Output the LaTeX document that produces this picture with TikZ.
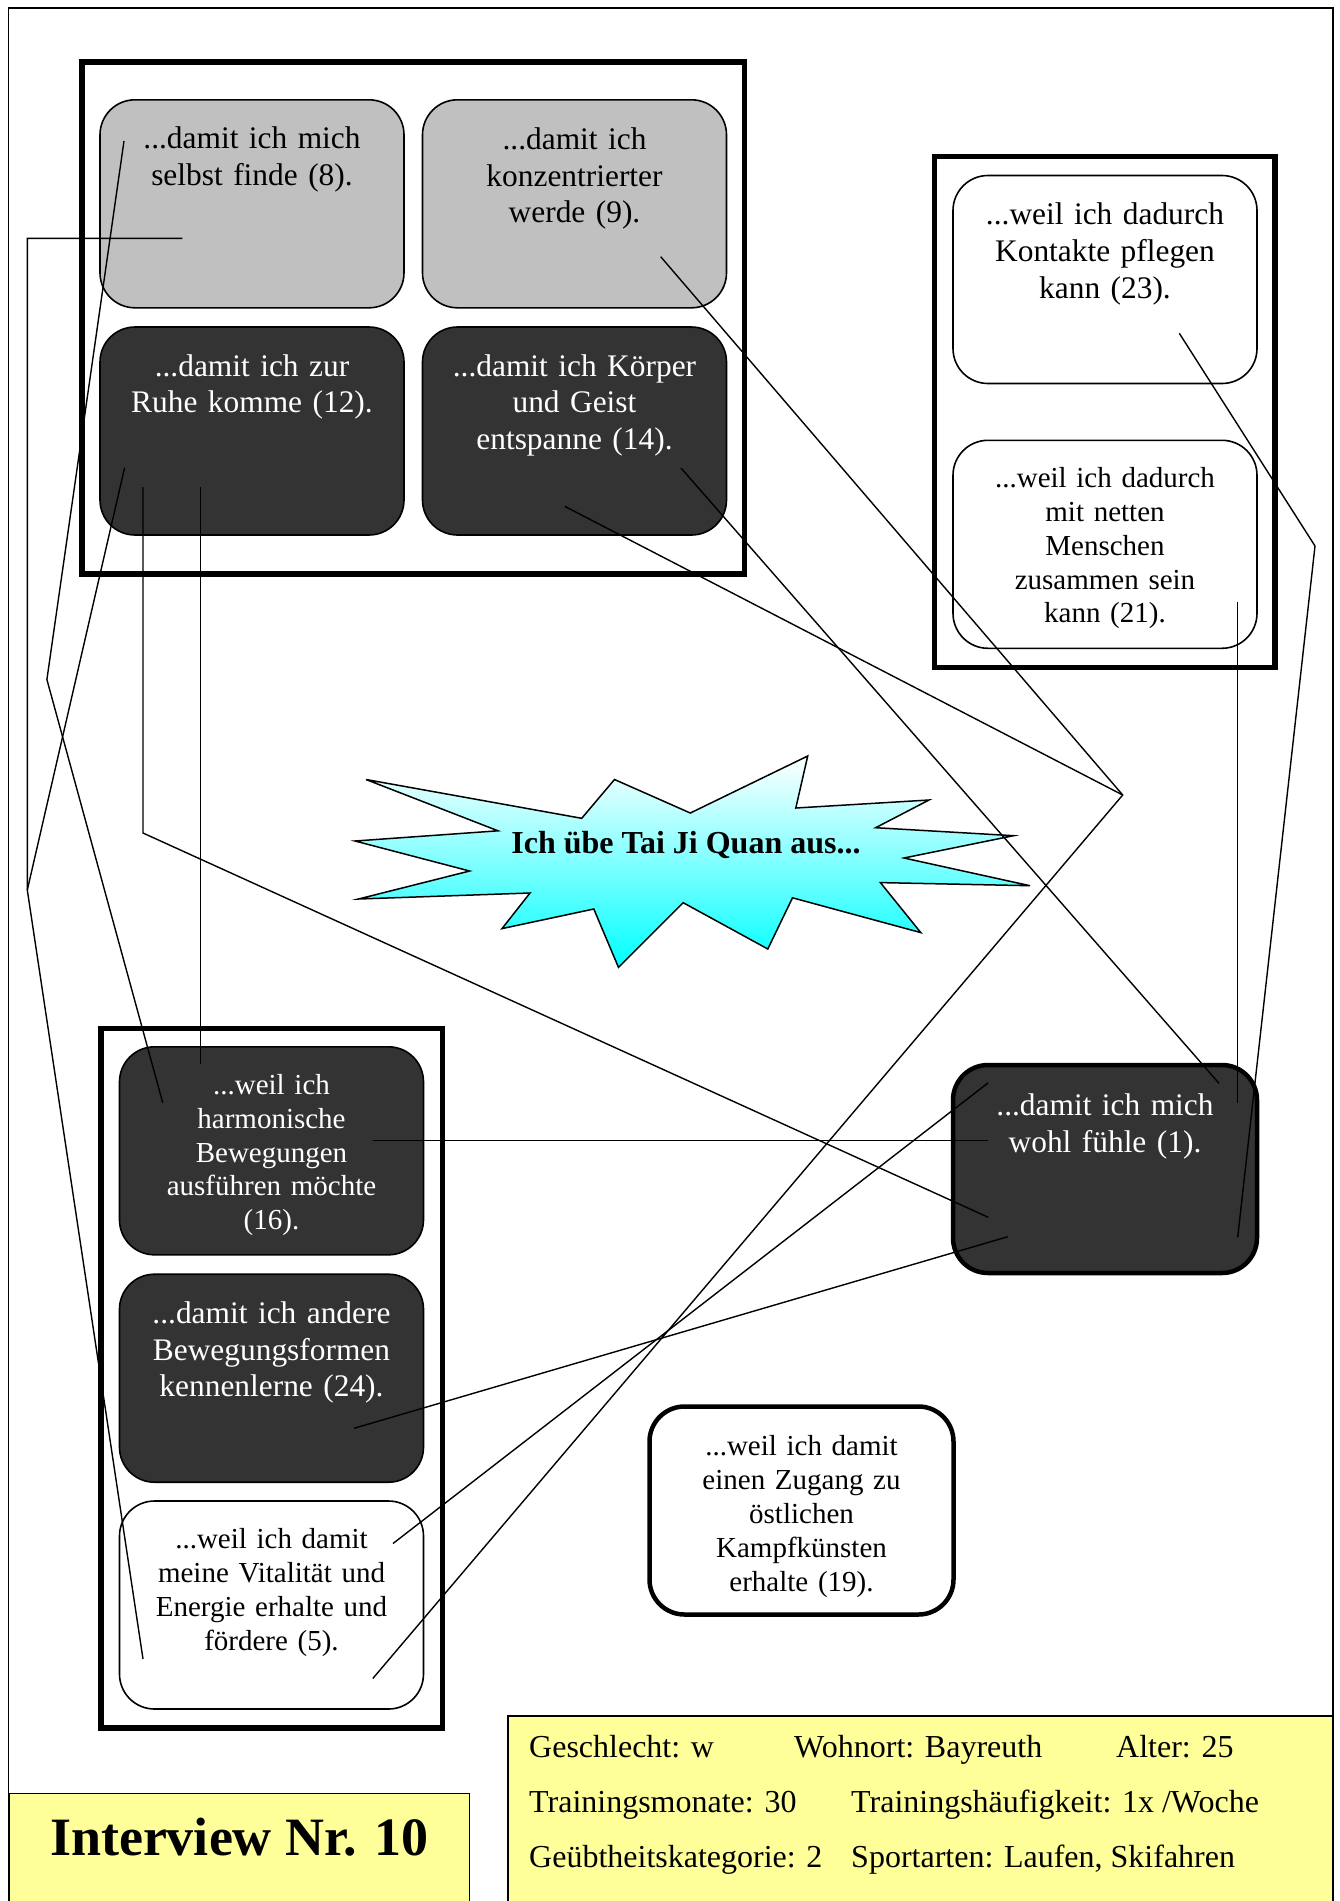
\documentclass[tikz,border=0pt]{standalone}
\usepackage{fontspec}
\setmainfont{Liberation Serif}
\usetikzlibrary{calc}

\definecolor{greybox}{HTML}{C0C0C0}
\definecolor{darkbox}{HTML}{333333}
\definecolor{infoyellow}{HTML}{FFFF99}

\begin{document}
\begin{tikzpicture}[x=1pt, y=-1pt,
  reason/.style={draw=black, line width=1.6pt, rounded corners=35pt,
    minimum width=304pt, minimum height=208pt, inner sep=0pt, outer sep=0pt},
  reasonlight/.style={reason, fill=greybox},
  reasondark/.style={reason, fill=darkbox},
  reasonwhite/.style={reason, fill=white},
  heavyborder/.style={line width=4.5pt},
  heavyframe/.style={draw=black, line width=5.5pt},
  txtbig/.style={font=\fontsize{31.4}{36.8}\selectfont, text width=296pt,
    align=center, anchor=base, inner sep=0pt},
  txtsmall/.style={font=\fontsize{29}{33.9}\selectfont, text width=296pt,
    align=center, anchor=base, inner sep=0pt},
  infotxt/.style={font=\fontsize{32}{36}\selectfont, anchor=base west, inner sep=0pt},
  linkline/.style={draw=black, line width=1.4pt},
]
\useasboundingbox (0,0) rectangle (1340,1901);
\clip (0,0) rectangle (1340,1901);

% page frame
\draw[line width=1.5pt] (8.5,8) rectangle (1333,1910);

% group frames
\draw[heavyframe] (82,62) rectangle (744.5,574);
\draw[heavyframe] (934.5,156.5) rectangle (1275,667.5);
\draw[heavyframe] (101,1028.3) rectangle (442.5,1728);

% reason boxes
\node[reasonlight] (b8)  at (252,203.8) {};
\node[reasonlight] (b9)  at (574.5,203.8) {};
\node[reasondark]  (b12) at (252,431) {};
\node[reasondark]  (b14) at (574.5,431) {};
\node[reasonwhite] (b23) at (1105,279.5) {};
\node[reasonwhite] (b21) at (1105,544.3) {};
\node[reasondark]  (b16) at (271.5,1150.8) {};
\node[reasondark]  (b24) at (271.5,1378.2) {};
\node[reasonwhite] (b5)  at (271.5,1605) {};
\node[reasondark, heavyborder]  (b1)  at (1105,1169) {};
\node[reasonwhite, heavyborder] (b19) at (801.5,1510.5) {};

% reason texts
\node[txtbig] (t8) at ($(b8.north)+(0,49)$) {...damit ich mich\\selbst finde (8).};
\node[txtbig] (t9) at ($(b9.north)+(0,49.5)$) {...damit ich\\konzentrierter\\werde (9).};
\node[txtbig, text=white] (t12) at ($(b12.north)+(0,49)$) {...damit ich zur\\Ruhe komme (12).};
\node[txtbig, text=white] (t14) at ($(b14.north)+(0,49)$) {...damit ich Körper\\und Geist\\entspanne (14).};
\node[txtbig] (t23) at ($(b23.north)+(0,49)$) {...weil ich dadurch\\Kontakte pflegen\\kann (23).};
\node[txtsmall] (t21) at ($(b21.north)+(0,47)$) {...weil ich dadurch\\mit netten\\Menschen\\zusammen sein\\kann (21).};
\node[txtsmall, text=white] (t16) at ($(b16.north)+(0,47.4)$) {...weil ich\\harmonische\\Bewegungen\\ausführen möchte\\(16).};
\node[txtbig, text=white] (t24) at ($(b24.north)+(0,49)$) {...damit ich andere\\Bewegungsformen\\kennenlerne (24).};
\node[txtsmall] (t5) at ($(b5.north)+(0,47.3)$) {...weil ich damit\\meine Vitalität und\\Energie erhalte und\\fördere (5).};
\node[txtbig, text=white] (t1) at ($(b1.north)+(0,50.5)$) {...damit ich mich\\wohl fühle (1).};
\node[txtsmall] (t19) at ($(b19.north)+(0,49)$) {...weil ich damit\\einen Zugang zu\\östlichen\\Kampfkünsten\\erhalte (19).};

% central burst
\shade[top color=white, bottom color=cyan, draw=black, line width=1.5pt]
  (366,779.5) -- (581.7,818.3) -- (614.5,779.5) -- (690.3,813) -- (807.7,756)
  -- (795.8,808) -- (929,800) -- (875.7,827.7) -- (1013.5,835.7) -- (904,858)
  -- (1030,885.7) -- (880.4,882.6) -- (920.8,932.6) -- (792.5,897.8)
  -- (767.8,949) -- (683.2,902.7) -- (618.5,967.4) -- (593.8,909)
  -- (502,928.6) -- (530,893) -- (358.5,899) -- (469.6,871) -- (355,841)
  -- (498,830.8) -- cycle;
\node[font=\fontsize{32}{36}\selectfont\bfseries, anchor=base, inner sep=0pt]
  (burst) at (686,853.6) {Ich übe Tai Ji Quan aus...};

% connector end points inside the boxes
\coordinate (e8a)  at (182.3,238.3);
\coordinate (e8b)  at (124,141);
\coordinate (e12a) at (124.6,467.7);
\coordinate (e12b) at (143,487);
\coordinate (e12c) at (200.6,487);
\coordinate (e9)   at (660.7,256.7);
\coordinate (e14a) at (681,468);
\coordinate (e14b) at (564.7,506.3);
\coordinate (e23)  at (1179.3,333.3);
\coordinate (e21)  at (1237.7,602.3);
\coordinate (e16a) at (162.7,1102.7);
\coordinate (e16b) at (200.6,1064);
\coordinate (e16c) at (373.3,1140.7);
\coordinate (e24)  at (354,1428.3);
\coordinate (e5a)  at (143,1659);
\coordinate (e5b)  at (393,1543.5);
\coordinate (e5c)  at (372.8,1678.5);
\coordinate (e1a)  at (988.3,1082.7);
\coordinate (e1b)  at (988.3,1140.7);
\coordinate (e1c)  at (988.3,1217.3);
\coordinate (e1d)  at (1007.7,1236.7);
\coordinate (e1e)  at (1219,1083.3);
\coordinate (e1f)  at (1237.7,1102.7);
\coordinate (e1g)  at (1237.7,1237.3);
% bend points
\coordinate (k1) at (27.3,238.3);
\coordinate (k2) at (27.3,890);
\coordinate (k3) at (46.9,679.5);
\coordinate (k4) at (143,833);
\coordinate (k5) at (1122.7,795);
\coordinate (k6) at (1315,546);

% connectors
\draw[linkline] (e8a) -- (k1) -- (k2) -- (e5a);
\draw[linkline] (e12a) -- (k2);
\draw[linkline] (e8b) -- (k3) -- (e16a);
\draw[linkline] (e12b) -- (k4) -- (e1c);
\draw[linkline] (e12c) -- (e16b);
\draw[linkline] (e16c) -- (e1b);
\draw[linkline] (e9) -- (k5) -- (e5c);
\draw[linkline] (e14b) -- (k5);
\draw[linkline] (e14a) -- (e1e);
\draw[linkline] (e23) -- (k6) -- (e1g);
\draw[linkline] (e21) -- (e1f);
\draw[linkline] (e1a) -- (e5b);
\draw[linkline] (e1d) -- (e24);

% title box
\draw[line width=1.5pt, fill=infoyellow] (9.5,1793.5) rectangle (469.5,1915);
\node[font=\fontsize{54}{60}\selectfont\bfseries, anchor=base, inner sep=0pt]
  (title) at (239.5,1855) {Interview Nr. 10};

% interviewee data box
\draw[line width=1.5pt, fill=infoyellow] (508,1716) rectangle (1333,1915);
\node[infotxt] (sex)   at (529,1757) {Geschlecht: w};
\node[infotxt] (home)  at (794,1757) {Wohnort: Bayreuth};
\node[infotxt] (age)   at (1116,1757) {Alter: 25};
\node[infotxt] (month) at (529,1812.5) {Trainingsmonate: 30};
\node[infotxt] (freq)  at (851,1812.5) {Trainingshäufigkeit: 1x /Woche};
\node[infotxt] (level) at (529,1867.5) {Geübtheitskategorie: 2};
\node[infotxt] (sport) at (851,1867.5) {Sportarten: Laufen, Skifahren};
\end{tikzpicture}
\end{document}
